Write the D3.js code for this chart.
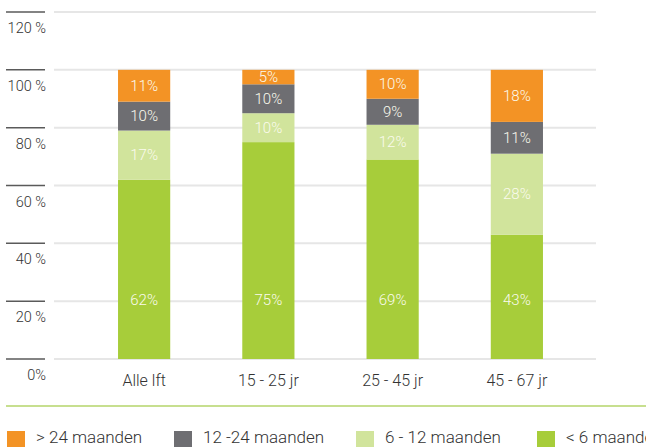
<!DOCTYPE html>
<html>
<head>
<meta charset="utf-8">
<script src="https://cdn.jsdelivr.net/npm/d3@7"></script>
<style>
  body { margin: 0; background: #fff; overflow: hidden; }
  svg { font-family: Roboto, sans-serif; display: block; }
</style>
</head>
<body>
<svg id="chart" width="646" height="447"></svg>
<script>
// categories and stacked series (bottom to top)
var categories = ['Alle lft', '15 - 25 jr', '25 - 45 jr', '45 - 67 jr'];
var seriesNames = ['< 6 maanden', '6 - 12 maanden', '12 -24 maanden', '> 24 maanden'];
var under6 = [62, 75, 69, 43];
var from6to12 = [17, 10, 12, 28];
var from12to24 = [10, 10, 9, 11];
var over24 = [11, 5, 10, 18];
var yTicks = [0, 20, 40, 60, 80, 100, 120];
var yTickLabels = ['0%', '20 %', '40 %', '60 %', '80 %', '100 %', '120 %'];
var legendOrder = ['> 24 maanden', '12 -24 maanden', '6 - 12 maanden', '< 6 maanden'];
var legendTexts = ['> 24 maanden', '12 -24 maanden', '6 - 12 maanden', '< 6 maanden'];

var colors = {
    '< 6 maanden': '#a7cd3a',
    '6 - 12 maanden': '#d1e49c',
    '12 -24 maanden': '#6e6e72',
    '> 24 maanden': '#f39325'
};

var svg = d3.select('#chart');

var rows = categories.map((c, i) => ({
    cat: c,
    '< 6 maanden': under6[i],
    '6 - 12 maanden': from6to12[i],
    '12 -24 maanden': from12to24[i],
    '> 24 maanden': over24[i]
}));

var y = d3.scaleLinear().domain([0, 120]).range([359, 12]);
var x = d3.scaleBand().domain(categories).range([82, 579]).paddingInner(0.58).paddingOuter(0.29);

// grid lines + short dark ticks on the left
svg.append('g').selectAll('line.grid')
    .data(yTicks).enter().append('line')
    .attr('x1', 54).attr('x2', 596)
    .attr('y1', d => y(d)).attr('y2', d => y(d))
    .attr('stroke', '#e6e6e6').attr('stroke-width', 2);

svg.append('g').selectAll('line.tick')
    .data(yTicks).enter().append('line')
    .attr('x1', 6).attr('x2', 45)
    .attr('y1', d => y(d)).attr('y2', d => y(d))
    .attr('stroke', '#5a5a5a').attr('stroke-width', 1.5);

svg.append('g').selectAll('text')
    .data(yTicks).enter().append('text')
    .attr('x', 46)
    .attr('y', d => y(d) + 21)
    .attr('text-anchor', 'end')
    .attr('font-size', 14.5)
    .attr('font-weight', 300)
    .attr('fill', '#333')
    .text((d, i) => yTickLabels[i]);

// stacked bars
var stack = d3.stack().keys(seriesNames)(rows);

var layers = svg.append('g').selectAll('g')
    .data(stack).enter().append('g')
    .attr('fill', d => colors[d.key]);

layers.selectAll('rect')
    .data(d => d).enter().append('rect')
    .attr('x', d => x(d.data.cat))
    .attr('width', x.bandwidth())
    .attr('y', d => y(d[1]))
    .attr('height', d => y(d[0]) - y(d[1]));

// the bottom segment labels sit low in the bar, the others in the middle
layers.selectAll('text')
    .data(d => d).enter().append('text')
    .attr('x', d => x(d.data.cat) + x.bandwidth() / 2)
    .attr('y', d => d[0] === 0 ? y(20) + 4 : (y(d[0]) + y(d[1])) / 2 + 5)
    .attr('text-anchor', 'middle')
    .attr('font-size', 15)
    .attr('font-weight', 300)
    .attr('fill', '#fbfbee')
    .text(d => (d[1] - d[0]) + '%');

// category labels
svg.append('g').selectAll('text')
    .data(categories).enter().append('text')
    .attr('x', d => x(d) + x.bandwidth() / 2)
    .attr('y', 386)
    .attr('text-anchor', 'middle')
    .attr('font-size', 16)
    .attr('font-weight', 300)
    .attr('fill', '#333')
    .text(d => d);

// green separator line
svg.append('line')
    .attr('x1', 6).attr('x2', 646)
    .attr('y1', 406).attr('y2', 406)
    .attr('stroke', '#b5d46a').attr('stroke-width', 1.5);

// legend (the last entry runs off the right edge, as in the original)
var legendX = [7, 174, 356, 537];
var legend = svg.append('g').selectAll('g')
    .data(legendOrder).enter().append('g')
    .attr('transform', (d, i) => `translate(${legendX[i]}, 431)`);

legend.append('rect')
    .attr('width', 18).attr('height', 18)
    .attr('fill', d => colors[d]);

legend.append('text')
    .attr('x', 29).attr('y', 12)
    .attr('font-size', 17)
    .attr('font-weight', 300)
    .attr('fill', '#333')
    .text((d, i) => legendTexts[i]);
</script>
</body>
</html>
